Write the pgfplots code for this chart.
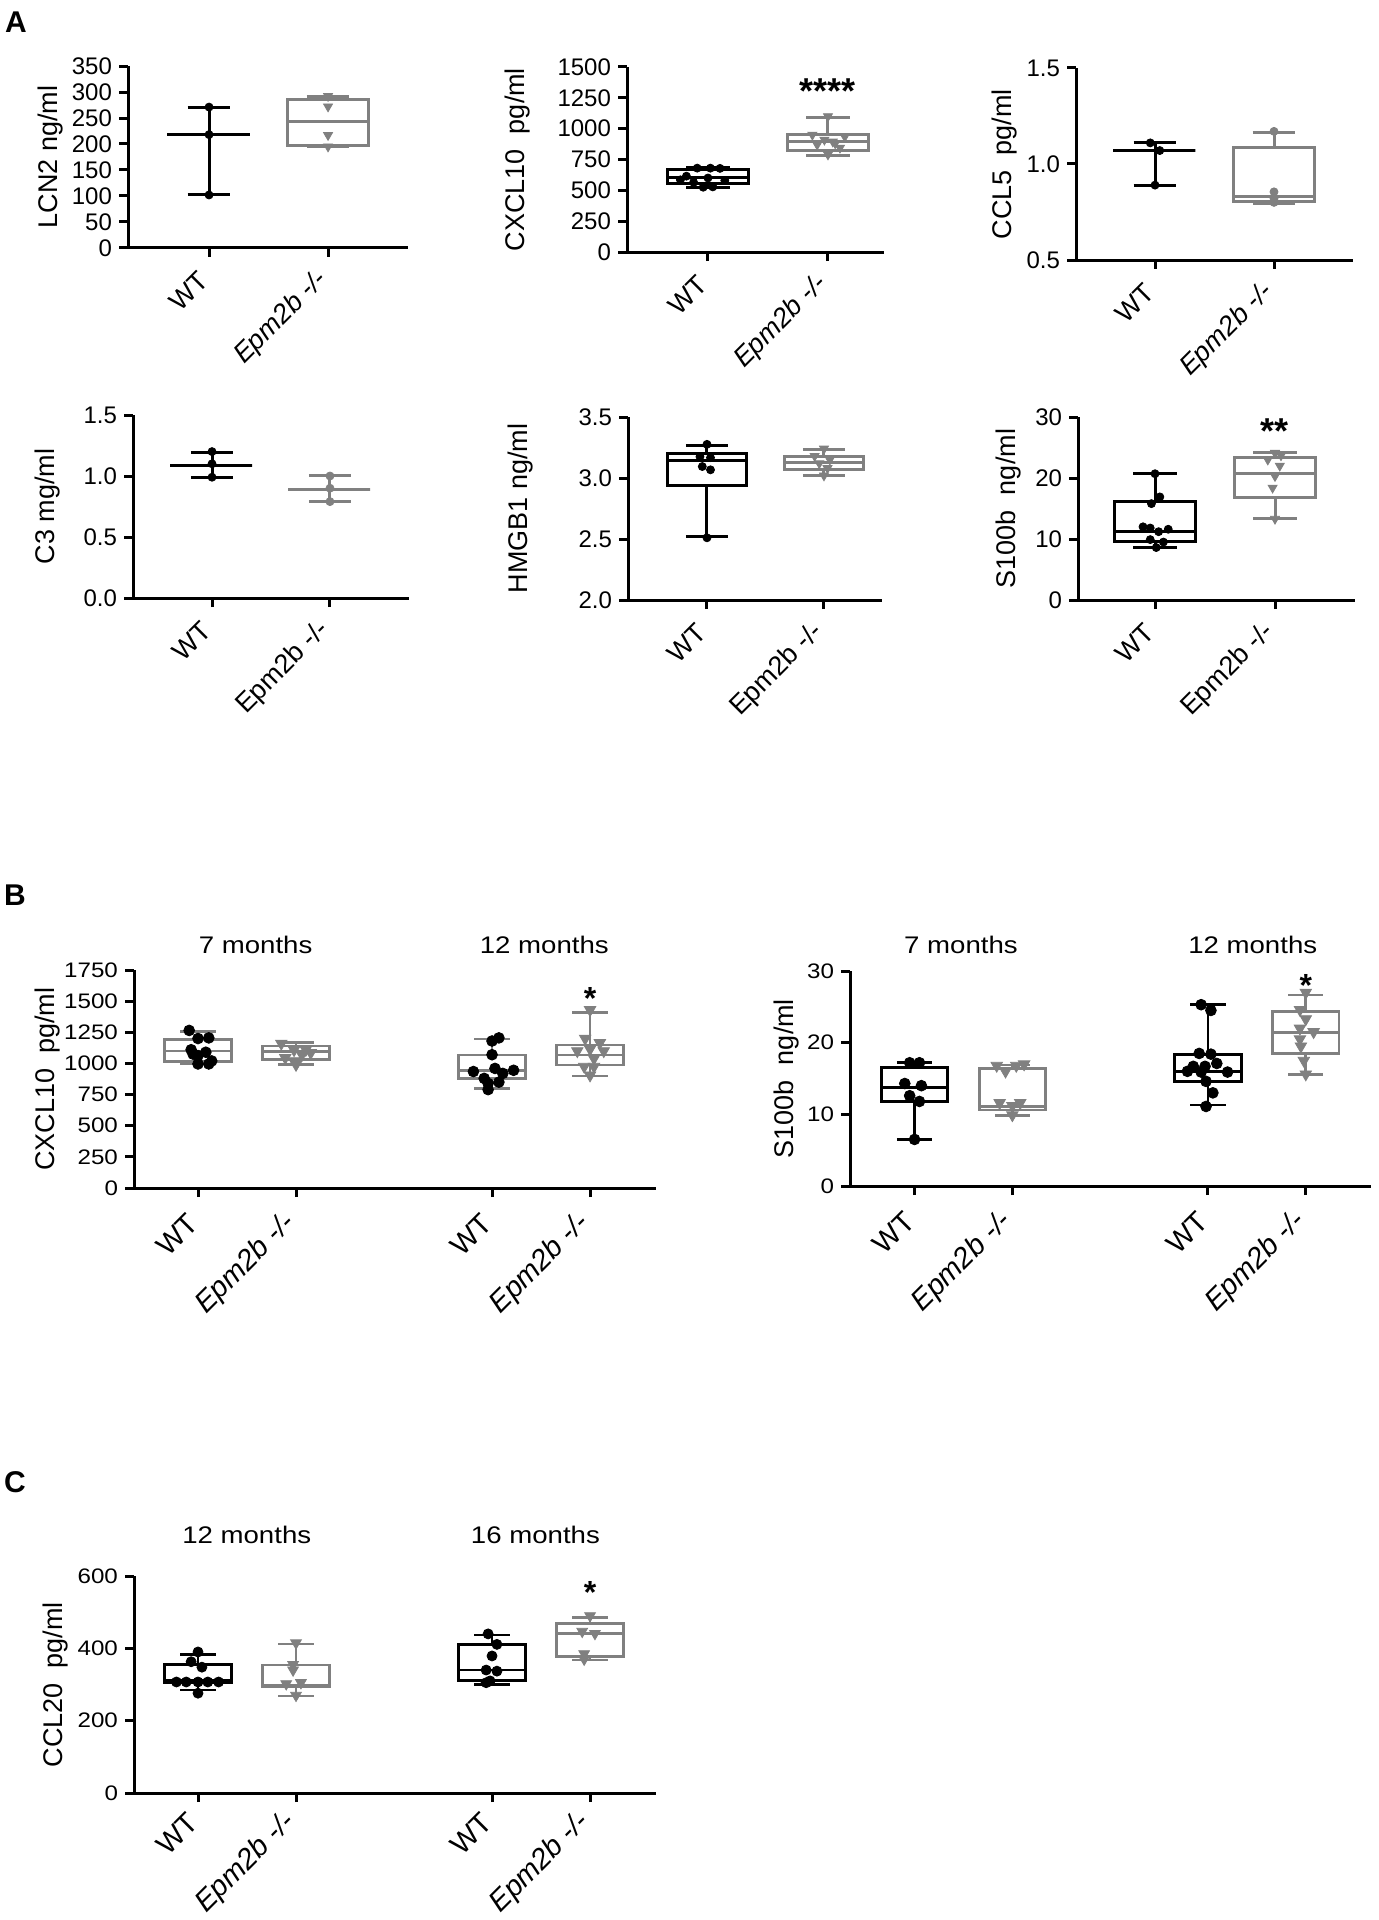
\documentclass[border=0pt]{standalone}
\usepackage{pgfplots}
\pgfplotsset{compat=1.18}
\usepackage{fontspec}
\setmainfont{Liberation Sans}

\definecolor{gr}{RGB}{128,128,128}

% sizes in pt (1 px of the reference = 0.5pt)
\newcommand{\fs}[1]{\fontsize{#1}{#1}\selectfont}
\newcommand{\wide}[1]{\scalebox{1.15}[1]{#1}}
\def\blw{1.5pt}
\def\msz{2pt}
\def\tsz{2.6pt}

% box: colour, position, lower whisker, q1, median, q3, upper whisker
\newcommand{\bx}[7]{%
  \pgfmathsetmacro\xbl{#2-0.34}\pgfmathsetmacro\xbr{#2+0.34}%
  \pgfmathsetmacro\xcl{#2-0.18}\pgfmathsetmacro\xcr{#2+0.18}%
  \edef\tmp{%
    \noexpand\addplot[#1, line width=\blw, line cap=rect, forget plot] coordinates {(\xbl,#4) (\xbr,#4) (\xbr,#6) (\xbl,#6) (\xbl,#4)};
    \noexpand\addplot[#1, line width=\blw, forget plot] coordinates {(\xbl,#5) (\xbr,#5)};
    \noexpand\addplot[#1, line width=\blw, forget plot] coordinates {(#2,#3) (#2,#4)};
    \noexpand\addplot[#1, line width=\blw, forget plot] coordinates {(#2,#6) (#2,#7)};
    \noexpand\addplot[#1, line width=\blw, forget plot] coordinates {(\xcl,#3) (\xcr,#3)};
    \noexpand\addplot[#1, line width=\blw, forget plot] coordinates {(\xcl,#7) (\xcr,#7)};
  }\tmp}
\newcommand{\wt}[1]{\addplot[only marks, mark=*, mark size=\msz, black] coordinates {#1};}
\newcommand{\ko}[1]{\addplot[only marks, mark=triangle*, mark size=\tsz, gr, mark options={rotate=180}] coordinates {#1};}
\newcommand{\kc}[1]{\addplot[only marks, mark=*, mark size=\msz, gr] coordinates {#1};}

\pgfplotsset{
  panel/.style={
    scale only axis, anchor=south west, clip=false,
    axis x line*=bottom, axis y line*=left,
    axis line style={line width=1.5pt},
    tick style={line width=1.5pt, black},
    tick align=outside, major tick length=4.5pt,
    /pgf/number format/assume math mode=true,
    /pgf/number format/1000 sep={},
    xtick={1,2},
    yticklabel style={font=\fs{12}},
    ylabel style={font=\fs{13.5}},
    every x tick label/.style={font=\fs{13.5}, yshift=-7pt, rotate=45, anchor=east},
  },
  panelB/.style={
    panel, xtick={1,2,4,5},
    yticklabel style={font=\fs{10.5}},
    yticklabel={\wide{\pgfmathprintnumber{\tick}}},
    ylabel style={font=\fs{13.5}},
    every x tick label/.style={font=\fs{14.5}, yshift=-8.5pt, rotate=45, anchor=east},
    xticklabels={WT, \textit{Epm2b -/-}, WT, \textit{Epm2b -/-}},
  },
  dec/.style={yticklabel style={/pgf/number format/.cd, fixed, fixed zerofill, precision=1}},
}

\begin{document}
\begin{tikzpicture}
\useasboundingbox (0,0) rectangle (689pt,-960pt);

\node[font=\bfseries\fs{15}] at (8pt,-11pt) {A};
\node[font=\bfseries\fs{15}] at (7.5pt,-447.5pt) {B};
\node[font=\bfseries\fs{15}] at (7.5pt,-741pt) {C};

% ---- A, row 1
\begin{axis}[panel, at={(64pt,-124pt)}, width=140pt, height=91pt,
  xmin=0.319, xmax=2.672, ymin=0, ymax=350, ytick={0,50,...,350},
  xticklabels={WT, \textit{Epm2b -/-}}, ylabel={LCN2 ng/ml}, ylabel shift=-2.5pt]
\bx{black}{1}{102}{218}{218}{218}{271}
\bx{gr}{2}{195}{198}{243}{286}{292}
\wt{(1,271) (1,218) (1,102)}
\ko{(2,292) (2,272) (2,217) (2,195)}
\end{axis}

\begin{axis}[panel, at={(313.5pt,-126pt)}, width=128.5pt, height=92.5pt,
  xmin=0.325, xmax=2.467, ymin=0, ymax=1500, ytick={0,250,...,1500},
  xticklabels={WT, \textit{Epm2b -/-}}, ylabel={CXCL10\ \ pg/ml}, ylabel shift=7pt]
\bx{black}{1}{522}{555}{600}{668}{685}
\bx{gr}{2}{781}{827}{895}{954}{1092}
\wt{(0.91,680) (1.02,680) (1.1,678) (0.77,585) (0.88,565) (0.96,525) (1.04,528) (1.14,580) (0.82,615) (1.0,600)}
\ko{(2,1100) (1.87,950) (1.91,870) (1.97,910) (2,790) (2.04,895) (2.1,845) (2.14,935) (2.06,880)}
\node[font=\bfseries\fs{18}, anchor=base] at (axis cs:2,1200) {****};
\end{axis}

\begin{axis}[panel, dec, at={(538pt,-130pt)}, width=138.5pt, height=96pt,
  xmin=0.336, xmax=2.664, ymin=0.5, ymax=1.5, ytick={0.5,1.0,1.5},
  xticklabels={WT, \textit{Epm2b -/-}}, ylabel={CCL5\ \ pg/ml}, ylabel shift=-2pt]
\bx{black}{1}{0.89}{1.069}{1.069}{1.069}{1.111}
\bx{gr}{2}{0.795}{0.803}{0.83}{1.085}{1.165}
\wt{(0.96,1.11) (1.04,1.07) (1,0.89)}
\kc{(2,1.17) (2,0.855) (2,0.82) (2,0.80)}
\end{axis}

% ---- A, row 2
\begin{axis}[panel, dec, at={(66.5pt,-299pt)}, width=138pt, height=91.5pt,
  xmin=0.33, xmax=2.67, ymin=0, ymax=1.5, ytick={0,0.5,1.0,1.5},
  xticklabels={WT, Epm2b -/-}, ylabel={C3 mg/ml}, ylabel shift=5pt]
\bx{black}{1}{0.99}{1.09}{1.09}{1.09}{1.195}
\bx{gr}{2}{0.79}{0.893}{0.893}{0.893}{1.003}
\wt{(1,1.2) (1,1.1) (1,0.99)}
\kc{(2,1.0) (2,0.9) (2,0.79)}
\end{axis}

\begin{axis}[panel, dec, at={(314pt,-300pt)}, width=127pt, height=91.5pt,
  xmin=0.325, xmax=2.496, ymin=2, ymax=3.5, ytick={2,2.5,3,3.5},
  xticklabels={WT, Epm2b -/-}, ylabel={HMGB1 ng/ml}, ylabel shift=16pt]
\bx{black}{1}{2.52}{2.935}{3.14}{3.20}{3.27}
\bx{gr}{2}{3.02}{3.07}{3.13}{3.18}{3.235}
\wt{(1,3.276) (0.94,3.175) (1.03,3.167) (0.96,3.094) (1.03,3.067) (1,2.51)}
\ko{(2,3.24) (1.92,3.18) (2.05,3.15) (1.96,3.12) (2.03,3.08) (2,3.02)}
\end{axis}

\begin{axis}[panel, at={(539pt,-300pt)}, width=138.5pt, height=91.5pt,
  xmin=0.358, xmax=2.667, ymin=0, ymax=30, ytick={0,10,20,30},
  xticklabels={WT, Epm2b -/-}, ylabel={S100b\ \ ng/ml}]
\bx{black}{1}{8.6}{9.56}{11.3}{16.1}{20.66}
\bx{gr}{2}{13.3}{16.8}{20.7}{23.3}{24.1}
\wt{(1,20.7) (1.04,16.9) (0.97,15.8) (0.9,12.0) (0.96,11.8) (1.03,11.2) (1.11,11.6) (0.96,9.9) (1.07,9.5) (1.01,8.6)}
\ko{(2,24.1) (1.94,23.0) (2.05,23.7) (2.04,22.0) (2,20.3) (1.98,18.4) (2,13.3)}
\node[font=\bfseries\fs{18}, anchor=base] at (axis cs:2,25.7) {**};
\end{axis}

% ---- B
\def\blw{1.4pt}
\def\msz{2.7pt}
\def\tsz{3.3pt}
\begin{axis}[panelB, at={(67pt,-594pt)}, width=261pt, height=109pt,
  xmin=0.347, xmax=5.673, ylabel shift=-5pt,
  ymin=0, ymax=1750, ytick={0,250,...,1750}, ylabel={CXCL10\ \ pg/ml}]
\bx{gr}{1}{995}{1015}{1100}{1195}{1255}
\bx{gr}{2}{990}{1033}{1094}{1140}{1167}
\bx{gr}{4}{800}{880}{942}{1068}{1196}
\bx{gr}{5}{899}{987}{1068}{1148}{1410}
\wt{(0.91,1265) (1,1200) (1.11,1205) (0.93,1110) (1,1063) (1.08,1090) (1.14,1020) (1,996) (1.11,996) (0.95,1075)}
\ko{(1.85,1160) (1.98,1108) (2.06,1070) (2.15,1085) (1.89,1045) (2,1020) (2,990) (2.1,1110)}
\wt{(4,1180) (4.07,1205) (4,1070) (3.81,935) (3.92,880) (4.03,960) (4.11,920) (4.22,945) (3.96,840) (4.07,850) (3.96,790)}
\ko{(5,1430) (4.95,1200) (5.1,1165) (4.87,1100) (5,1115) (5.14,1100) (5.04,1040) (4.94,975) (5.04,975) (5,905)}
\node[font=\fs{12}] at (rel axis cs:0.233,1.115) {\wide{7 months}};
\node[font=\fs{12}] at (rel axis cs:0.786,1.115) {\wide{12 months}};
\node[font=\bfseries\fs{16}, anchor=base] at (axis cs:5,1437) {*};
\end{axis}

\begin{axis}[panelB, at={(425pt,-593pt)}, width=260.5pt, height=107.5pt,
  xmin=0.34, xmax=5.667, ylabel shift=-3pt,
  ymin=0, ymax=30, ytick={0,10,20,30}, ylabel={S100b\ \ ng/ml}]
\bx{black}{1}{6.5}{11.8}{13.8}{16.5}{17.2}
\bx{gr}{2}{9.8}{10.6}{11.1}{16.4}{16.9}
\bx{black}{4}{11.3}{14.6}{15.95}{18.4}{25.3}
\bx{gr}{5}{15.6}{18.5}{21.4}{24.4}{26.65}
\wt{(0.95,17.2) (1.05,17.2) (0.9,14.3) (1.07,14.0) (0.95,12.6) (1.05,11.8) (1,6.5)}
\ko{(1.84,16.8) (1.93,16.0) (2.04,16.8) (2.12,17.0) (1.87,11.6) (2,11.2) (2.08,11.6) (2,9.9)}
\wt{(3.93,25.3) (4.03,24.5) (3.91,18.5) (4.03,18.4) (3.85,16.7) (3.97,16.7) (4.09,17.1) (4.2,15.9) (3.79,16.0) (3.93,15.9) (3.98,14.6) (4.05,13.0) (3.98,11.1)}
\ko{(5,27.0) (4.94,24.6) (5,23.3) (4.94,22.0) (5.08,21.5) (4.94,20.5) (4.95,19.5) (4.98,17.5) (5,15.6)}
\node[font=\fs{12}] at (rel axis cs:0.213,1.121) {\wide{7 months}};
\node[font=\fs{12}] at (rel axis cs:0.773,1.121) {\wide{12 months}};
\node[font=\bfseries\fs{16}, anchor=base] at (axis cs:5,26.5) {*};
\end{axis}

% ---- C
\def\msz{2.5pt}
\def\tsz{3.1pt}
\begin{axis}[panelB, at={(67pt,-896.5pt)}, width=261pt, height=108.5pt,
  xmin=0.347, xmax=5.673, ylabel shift=-2pt,
  every x tick label/.style={font=\fs{14.5}, yshift=-5.5pt, rotate=45, anchor=east},
  ymin=0, ymax=600, ytick={0,200,400,600}, ylabel={CCL20\ \ pg/ml}]
\bx{black}{1}{285}{305}{312}{356}{384}
\bx{gr}{2}{268}{295}{297}{354}{412}
\bx{black}{4}{301}{312}{340}{411}{437}
\bx{gr}{5}{368}{377}{441}{469}{486}
\wt{(1,390) (0.93,363) (1.04,348) (0.78,307) (0.88,307) (1,307) (1.1,307) (1.21,307) (1,276)}
\ko{(2,415) (1.97,355) (1.97,340) (1.9,302) (2.05,305) (2,270)}
\wt{(3.96,440) (4.05,411) (4,379) (3.94,340) (4.05,337) (3.98,310) (3.94,305)}
\ko{(5,490) (4.92,447) (5.05,441) (4.94,385) (4.94,370)}
\node[font=\fs{12}] at (rel axis cs:0.216,1.189) {\wide{12 months}};
\node[font=\fs{12}] at (rel axis cs:0.769,1.189) {\wide{16 months}};
\node[font=\bfseries\fs{16}, anchor=base] at (axis cs:5,525) {*};
\end{axis}
\end{tikzpicture}
\end{document}
